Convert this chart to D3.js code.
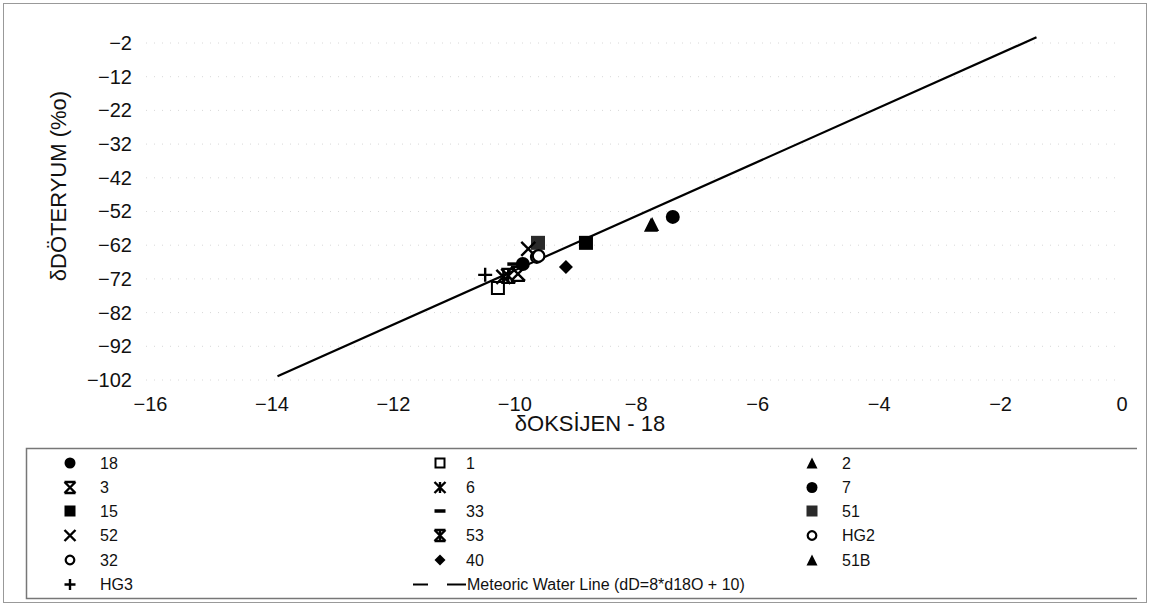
<!DOCTYPE html>
<html>
<head>
<meta charset="utf-8">
<script src="https://cdn.jsdelivr.net/npm/d3@7"></script>
<style>
  body { margin: 0; background: #fff; }
  text { font-family: "Liberation Sans", Arial, sans-serif; fill: #111; }
</style>
</head>
<body>
<div id="chart"></div>
<script>
// series names, marker types and values
var names   = ["18", "1", "2", "3", "6", "7", "15", "33", "51", "52", "53", "HG2", "32", "40", "51B", "HG3"];
var markers = ["circle", "osquare", "triangle", "xbar", "star", "circle", "square", "dash", "gsquare", "x", "starbar", "ocircle", "ocircle", "diamond", "triangle", "plus"];
var oxygen  = [-9.86, -10.27, -7.73, -9.94, -10.18, -7.39, -8.82, -10.0, -9.61, -9.77, -10.1, -9.63, -9.6, -9.15, -7.75, -10.48];
var deut    = [-67.6, -74.7, -55.7, -70.5, -71.4, -53.6, -61.3, -67.6, -61.3, -63.1, -71.1, -65.5, -65.2, -68.5, -55.9, -70.8];
var mwlX = [-13.9, -1.4];
var mwlY = [-100.9, -0.3];
var xTicks = [-16, -14, -12, -10, -8, -6, -4, -2, 0];
var yTicks = [-2, -12, -22, -32, -42, -52, -62, -72, -82, -92, -102];
var mwlLabel = "Meteoric Water Line (dD=8*d18O + 10)";

var width = 1150, height = 606;
var svg = d3.select("#chart").append("svg").attr("width", width).attr("height", height);

// outer frame
svg.append("rect").attr("x", 3.5).attr("y", 3.5).attr("width", 1143).attr("height", 599)
   .attr("fill", "none").attr("stroke", "#999").attr("stroke-width", 1);

var x = d3.scaleLinear().domain([-16, 0]).range([150, 1121.5]);
var y = d3.scaleLinear().domain([-102, -2]).range([380, 43]);

// faint dotted grid
svg.append("g").selectAll("line").data(yTicks).enter().append("line")
   .attr("x1", x(-16) - 4).attr("x2", x(0))
   .attr("y1", function(d){ return y(d); }).attr("y2", function(d){ return y(d); })
   .attr("stroke", "#d8d8d8").attr("stroke-dasharray", "1,7");

// axes without lines, only labels
var yAxis = svg.append("g").attr("transform", "translate(" + 141 + ",0)")
   .call(d3.axisLeft(y).tickValues(yTicks).tickSize(0).tickPadding(9));
yAxis.select(".domain").remove();
yAxis.selectAll("text").style("font-size", "20px").style("font-family", "Liberation Sans, Arial, sans-serif").attr("fill", "#111");

var xAxis = svg.append("g").attr("transform", "translate(0," + 397 + ")")
   .call(d3.axisBottom(x).tickValues(xTicks).tickSize(0).tickPadding(0).tickFormat(d3.format("d")));
xAxis.select(".domain").remove();
xAxis.selectAll("text").style("font-size", "20px").style("font-family", "Liberation Sans, Arial, sans-serif").attr("fill", "#111");

svg.append("text").attr("x", 590).attr("y", 431).attr("text-anchor", "middle")
   .style("font-size", "22px").text("δOKSİJEN - 18");
svg.append("text").attr("transform", "translate(66,186) rotate(-90)").attr("text-anchor", "middle")
   .style("font-size", "22px").text("δDÖTERYUM (%o)");

// meteoric water line
svg.append("line")
   .attr("x1", x(mwlX[0])).attr("y1", y(mwlY[0]))
   .attr("x2", x(mwlX[1])).attr("y2", y(mwlY[1]))
   .attr("stroke", "#000").attr("stroke-width", 2.2);

function drawMarker(g, type, cx, cy, s) {
  var h = s / 2;
  var m = g.append("g").attr("transform", "translate(" + cx + "," + cy + ")");
  if (type == "circle") m.append("circle").attr("r", h).attr("fill", "#000");
  else if (type == "ocircle") m.append("circle").attr("r", h - 1.2).attr("fill", "#fff").attr("stroke", "#000").attr("stroke-width", 2.2);
  else if (type == "square") m.append("rect").attr("x", -h).attr("y", -h).attr("width", s).attr("height", s).attr("fill", "#000");
  else if (type == "gsquare") m.append("rect").attr("x", -h).attr("y", -h).attr("width", s).attr("height", s).attr("fill", "#2a2a2a");
  else if (type == "osquare") m.append("rect").attr("x", -h + 1).attr("y", -h + 1).attr("width", s - 2).attr("height", s - 2).attr("fill", "#fff").attr("stroke", "#000").attr("stroke-width", 2);
  else if (type == "triangle") m.append("path").attr("d", "M0," + (-h) + "L" + h + "," + h + "L" + (-h) + "," + h + "Z").attr("fill", "#000");
  else if (type == "diamond") m.append("path").attr("d", "M0," + (-h) + "L" + h + ",0L0," + h + "L" + (-h) + ",0Z").attr("fill", "#000");
  else {
    var p = "";
    if (type == "x" || type == "xbar" || type == "star" || type == "starbar")
      p += "M" + (-h) + "," + (-h) + "L" + h + "," + h + "M" + (-h) + "," + h + "L" + h + "," + (-h);
    if (type == "xbar" || type == "starbar")
      p += "M" + (-h) + "," + (-h) + "H" + h + "M" + (-h) + "," + h + "H" + h;
    if (type == "star" || type == "starbar")
      p += "M0," + (-h) + "V" + h;
    if (type == "dash") p += "M" + (-h) + ",0H" + h;
    if (type == "plus") p += "M" + (-h) + ",0H" + h + "M0," + (-h) + "V" + h;
    m.append("path").attr("d", p).attr("fill", "none").attr("stroke", "#000")
     .attr("stroke-width", type == "dash" ? 3.5 : 2.4);
  }
}

// data points
var pts = svg.append("g");
for (var i = 0; i < names.length; i++) {
  drawMarker(pts, markers[i], x(oxygen[i]), y(deut[i]), 14);
}

// legend
var leg = svg.append("g");
leg.append("path").attr("d", "M1137,448.5H26.5V598.5H1137")
   .attr("fill", "none").attr("stroke", "#777").attr("stroke-width", 1.5);

var colMarker = [70, 440, 812], colText = [100, 466, 842];
var rowY = [463, 487.5, 511, 535.5, 560, 584.5];
for (var i = 0; i < names.length; i++) {
  var r = Math.floor(i / 3), c = i % 3;
  drawMarker(leg, markers[i], colMarker[c], rowY[r], 11);
  leg.append("text").attr("x", colText[c]).attr("y", rowY[r]).attr("dy", "0.35em")
     .style("font-size", "16px").text(names[i]);
}
// line sample (last slot)
leg.append("line").attr("x1", 413).attr("x2", 428).attr("y1", rowY[5]).attr("y2", rowY[5]).attr("stroke", "#000").attr("stroke-width", 2);
leg.append("line").attr("x1", 447).attr("x2", 466).attr("y1", rowY[5]).attr("y2", rowY[5]).attr("stroke", "#000").attr("stroke-width", 2);
leg.append("text").attr("x", 467).attr("y", rowY[5]).attr("dy", "0.35em").style("font-size", "16px").text(mwlLabel);
</script>
</body>
</html>
